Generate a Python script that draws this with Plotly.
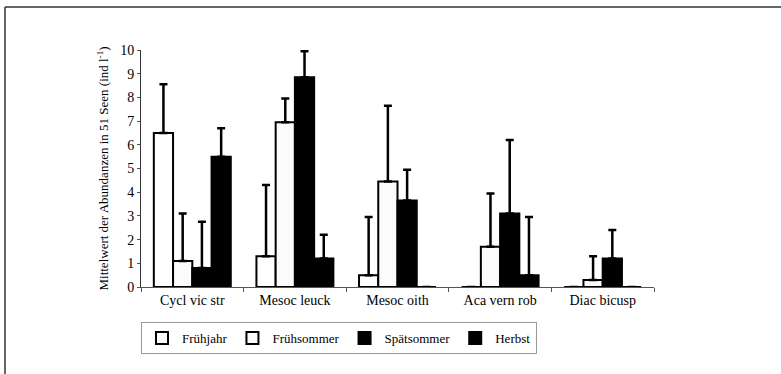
import plotly.graph_objects as go

# Mean abundance of copepod taxa in 51 lakes, by season
taxa = ["Cycl vic str", "Mesoc leuck", "Mesoc oith", "Aca vern rob", "Diac bicusp"]
seasons = ["Frühjahr", "Frühsommer", "Spätsommer", "Herbst"]

fruehjahr = [6.5, 1.3, 0.5, 0.0, 0.0]
fruehsommer = [1.1, 6.95, 4.45, 1.7, 0.3]
spaetsommer = [0.8, 8.85, 3.65, 3.1, 1.2]
herbst = [5.5, 1.2, 0.0, 0.5, 0.0]

# upper standard deviation (drawn upwards only)
sd_fruehjahr = [2.05, 3.0, 2.45, 0.0, 0.0]
sd_fruehsommer = [2.0, 1.0, 3.2, 2.25, 1.0]
sd_spaetsommer = [1.95, 1.1, 1.3, 3.1, 1.2]
sd_herbst = [1.2, 1.0, 0.0, 2.45, 0.0]

means = [fruehjahr, fruehsommer, spaetsommer, herbst]
sds = [sd_fruehjahr, sd_fruehsommer, sd_spaetsommer, sd_herbst]
fills = ["#ffffff", "#fbfbfb", "#000000", "#000000"]

SERIF = "Liberation Serif, Times New Roman, serif"

fig = go.Figure()
for name, vals, sd, fill in zip(seasons, means, sds, fills):
    fig.add_trace(go.Bar(
        x=taxa, y=vals, name=name,
        marker=dict(color=fill, line=dict(color="#000000", width=2)),
        error_y=dict(type="data", symmetric=False, array=sd,
                     arrayminus=[0] * len(sd), color="#000000",
                     thickness=2.5, width=4),
    ))

fig.update_layout(
    width=781, height=374,
    margin=dict(l=141, r=127, t=50, b=87),
    paper_bgcolor="#ffffff", plot_bgcolor="#ffffff",
    barmode="group", bargap=0.25, bargroupgap=0,
    font=dict(family=SERIF, color="#000000", size=13),
    showlegend=True,
    legend=dict(orientation="h", x=0.0, y=-0.148, xanchor="left", yanchor="top",
                bordercolor="#9a9a9a", borderwidth=1, bgcolor="#ffffff",
                font=dict(family=SERIF, size=13), traceorder="normal",
                itemwidth=30),
    xaxis=dict(showline=True, linecolor="#555555", linewidth=1,
               ticks="outside", ticklen=4, tickcolor="#555555",
               tickson="boundaries", showgrid=False,
               tickfont=dict(family=SERIF, size=14)),
    yaxis=dict(range=[0, 10], dtick=1, showline=True, linecolor="#333333",
               linewidth=1, ticks="outside", ticklen=3, tickcolor="#555555",
               showgrid=False, zeroline=False,
               tickfont=dict(family=SERIF, size=14),
               title=dict(text="Mittelwert der Abundanzen in 51 Seen (ind l<sup>-1</sup>)",
                          font=dict(family=SERIF, size=13), standoff=8)),
    shapes=[
        # outer frame of the figure panel
        dict(type="line", xref="paper", yref="paper",
             x0=(5 - 141) / 513, x1=(800 - 141) / 513,
             y0=1 + (50 - 7) / 237, y1=1 + (50 - 7) / 237,
             line=dict(color="#333333", width=1.5)),
        dict(type="line", xref="paper", yref="paper",
             x0=(5 - 141) / 513, x1=(5 - 141) / 513,
             y0=1 + (50 - 7) / 237, y1=(287 - 400) / 237,
             line=dict(color="#333333", width=1.5)),
    ],
)

fig.write_html("out.html")
